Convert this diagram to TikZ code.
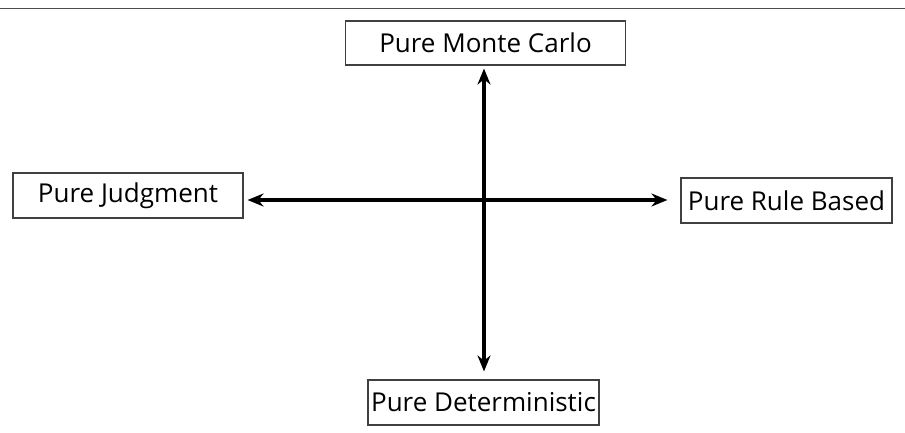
\documentclass[tikz,border=0pt]{standalone}
\usepackage{fontspec}
\setmainfont{Open Sans}
\usetikzlibrary{arrows.meta}
\begin{document}
\begin{tikzpicture}[x=1pt,y=-1pt,
  lbl/.style={draw=black!75,line width=1.1pt,inner sep=0pt,font=\fontsize{26}{29}\selectfont,text=black},
  axis/.style={line width=3.2pt,{Stealth[length=16pt,width=13pt]}-{Stealth[length=16pt,width=13pt]}}]
\useasboundingbox (0,0) rectangle (905,433);
\fill[white] (0,0) rectangle (905,433);
\draw[black!70,line width=1pt] (0,9) -- (905,9);
\node[lbl,minimum width=280pt,minimum height=44pt] (mc) at (485.5,43) {Pure Monte Carlo};
\node[lbl,minimum width=230pt,minimum height=45pt] (jd) at (128,195.5) {Pure Judgment};
\node[lbl,minimum width=211pt,minimum height=45pt] (rb) at (786.5,200.5) {Pure Rule Based};
\node[lbl,minimum width=231pt,minimum height=45pt] (dt) at (483.5,402.5) {Pure Deterministic};
\coordinate (c) at (484,200);
\draw[axis,shorten <=3pt,shorten >=8pt] (mc.south -| c) -- (dt.north -| c);
\draw[axis,shorten <=4pt,shorten >=13pt] (jd.east |- c) -- (rb.west |- c);
\end{tikzpicture}
\end{document}
